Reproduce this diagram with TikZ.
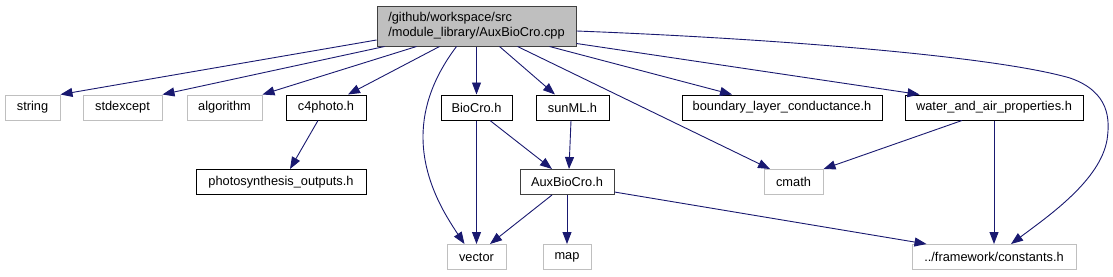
\documentclass[tikz,border=0pt]{standalone}
\usepackage{fontspec}
\setmainfont{Liberation Sans}
\usetikzlibrary{arrows.meta}
\definecolor{edgeblue}{HTML}{191970}
\definecolor{lgray}{HTML}{BFBFBF}
\definecolor{dgray}{HTML}{404040}
\begin{document}
\begin{tikzpicture}[x=1pt,y=-1pt,
  box/.style={draw=black,line width=1pt,inner sep=0pt,minimum height=25pt,font=\fontsize{12.8}{15}\selectfont},
  sysbox/.style={box,draw=lgray},
  rootbox/.style={box,draw=dgray,fill=lgray,minimum height=40pt,align=left},
  edge/.style={draw=edgeblue,line width=0.9pt,-{Triangle[length=12pt,width=9pt]}}
]
\useasboundingbox (0,0) rectangle (1113,276);
% root
\node[rootbox,minimum width=199pt] (root) at (476.5,26) {/github/workspace/src\\/module\_library/AuxBioCro.cpp};
% row 1
\node[sysbox,minimum width=55pt] (string) at (32.5,107.5) {string};
\node[sysbox,minimum width=79pt] (stdexcept) at (122.5,107.5) {stdexcept};
\node[sysbox,minimum width=75pt] (algorithm) at (224.5,107.5) {algorithm};
\node[box,minimum width=80pt] (c4photo) at (326,107.5) {c4photo.h};
\node[box,minimum width=71pt] (BioCro) at (476.5,107.5) {BioCro.h};
\node[box,minimum width=73pt] (sunML) at (572.5,107.5) {sunML.h};
\node[box,minimum width=200pt] (boundary) at (782,107.5) {boundary\_layer\_conductance.h};
\node[box,minimum width=178pt] (water) at (994,107.5) {water\_and\_air\_properties.h};
% row 2
\node[box,minimum width=170pt] (photo) at (281,182) {photosynthesis\_outputs.h};
\node[box,draw=dgray,minimum width=94pt] (AuxBioCro) at (567,182) {AuxBioCro.h};
\node[sysbox,minimum width=59pt] (cmath) at (793.5,182) {cmath};
% row 3
\node[sysbox,minimum width=59pt] (vector) at (476.5,257) {vector};
\node[sysbox,minimum width=48pt] (map) at (567,257) {map};
\node[sysbox,minimum width=164pt] (constants) at (994,257) {../framework/constants.h};
% edges from root
\draw[edge] ([yshift=-14pt]root.west) -- (string.north east);
\draw[edge] ([xshift=8pt]root.south west) -- (stdexcept.north east);
\draw[edge] ([xshift=40pt]root.south west) -- (algorithm.north east);
\draw[edge] ([xshift=63pt]root.south west) -- ([xshift=22pt]c4photo.north);
\draw[edge] ([xshift=80pt]root.south west) .. controls (435,75) and (423,105) .. (423,137)
  .. controls (423,180) and (445,215) .. ([xshift=-12pt]vector.north);
\draw[edge] (root.south) -- (BioCro.north);
\draw[edge] ([xshift=23pt]root.south) -- ([xshift=-17.5pt]sunML.north);
\draw[edge] ([xshift=41pt]root.south) -- ([xshift=-23.5pt]cmath.north);
\draw[edge] ([xshift=73pt]root.south) -- ([xshift=-50pt]boundary.north);
\draw[edge] ([yshift=3pt]root.south east) -- ([xshift=15pt]water.north west);
\draw[edge] ([yshift=-5pt]root.east) .. controls (760,38) and (990,55) .. (1070,78)
  .. controls (1110,92) and (1110,120) .. (1107,140)
  .. controls (1100,180) and (1050,215) .. ([xshift=17pt]constants.north);
% other edges
\draw[edge] ([xshift=-8pt]c4photo.south) -- ([xshift=9pt]photo.north);
\draw[edge] (BioCro.south) -- (vector.north);
\draw[edge] ([xshift=13.5pt]BioCro.south) -- ([xshift=-15pt]AuxBioCro.north);
\draw[edge] ([xshift=-1.5pt]sunML.south) -- ([xshift=2pt]AuxBioCro.north);
\draw[edge] ([xshift=-15pt]AuxBioCro.south) -- ([xshift=13.5pt]vector.north);
\draw[edge] (AuxBioCro.south) -- (map.north);
\draw[edge] ([yshift=-10pt]AuxBioCro.east) -- ([xshift=15pt]constants.north west);
\draw[edge] ([xshift=-32pt]water.south) -- (cmath.north east);
\draw[edge] (water.south) -- (constants.north);
\end{tikzpicture}
\end{document}
